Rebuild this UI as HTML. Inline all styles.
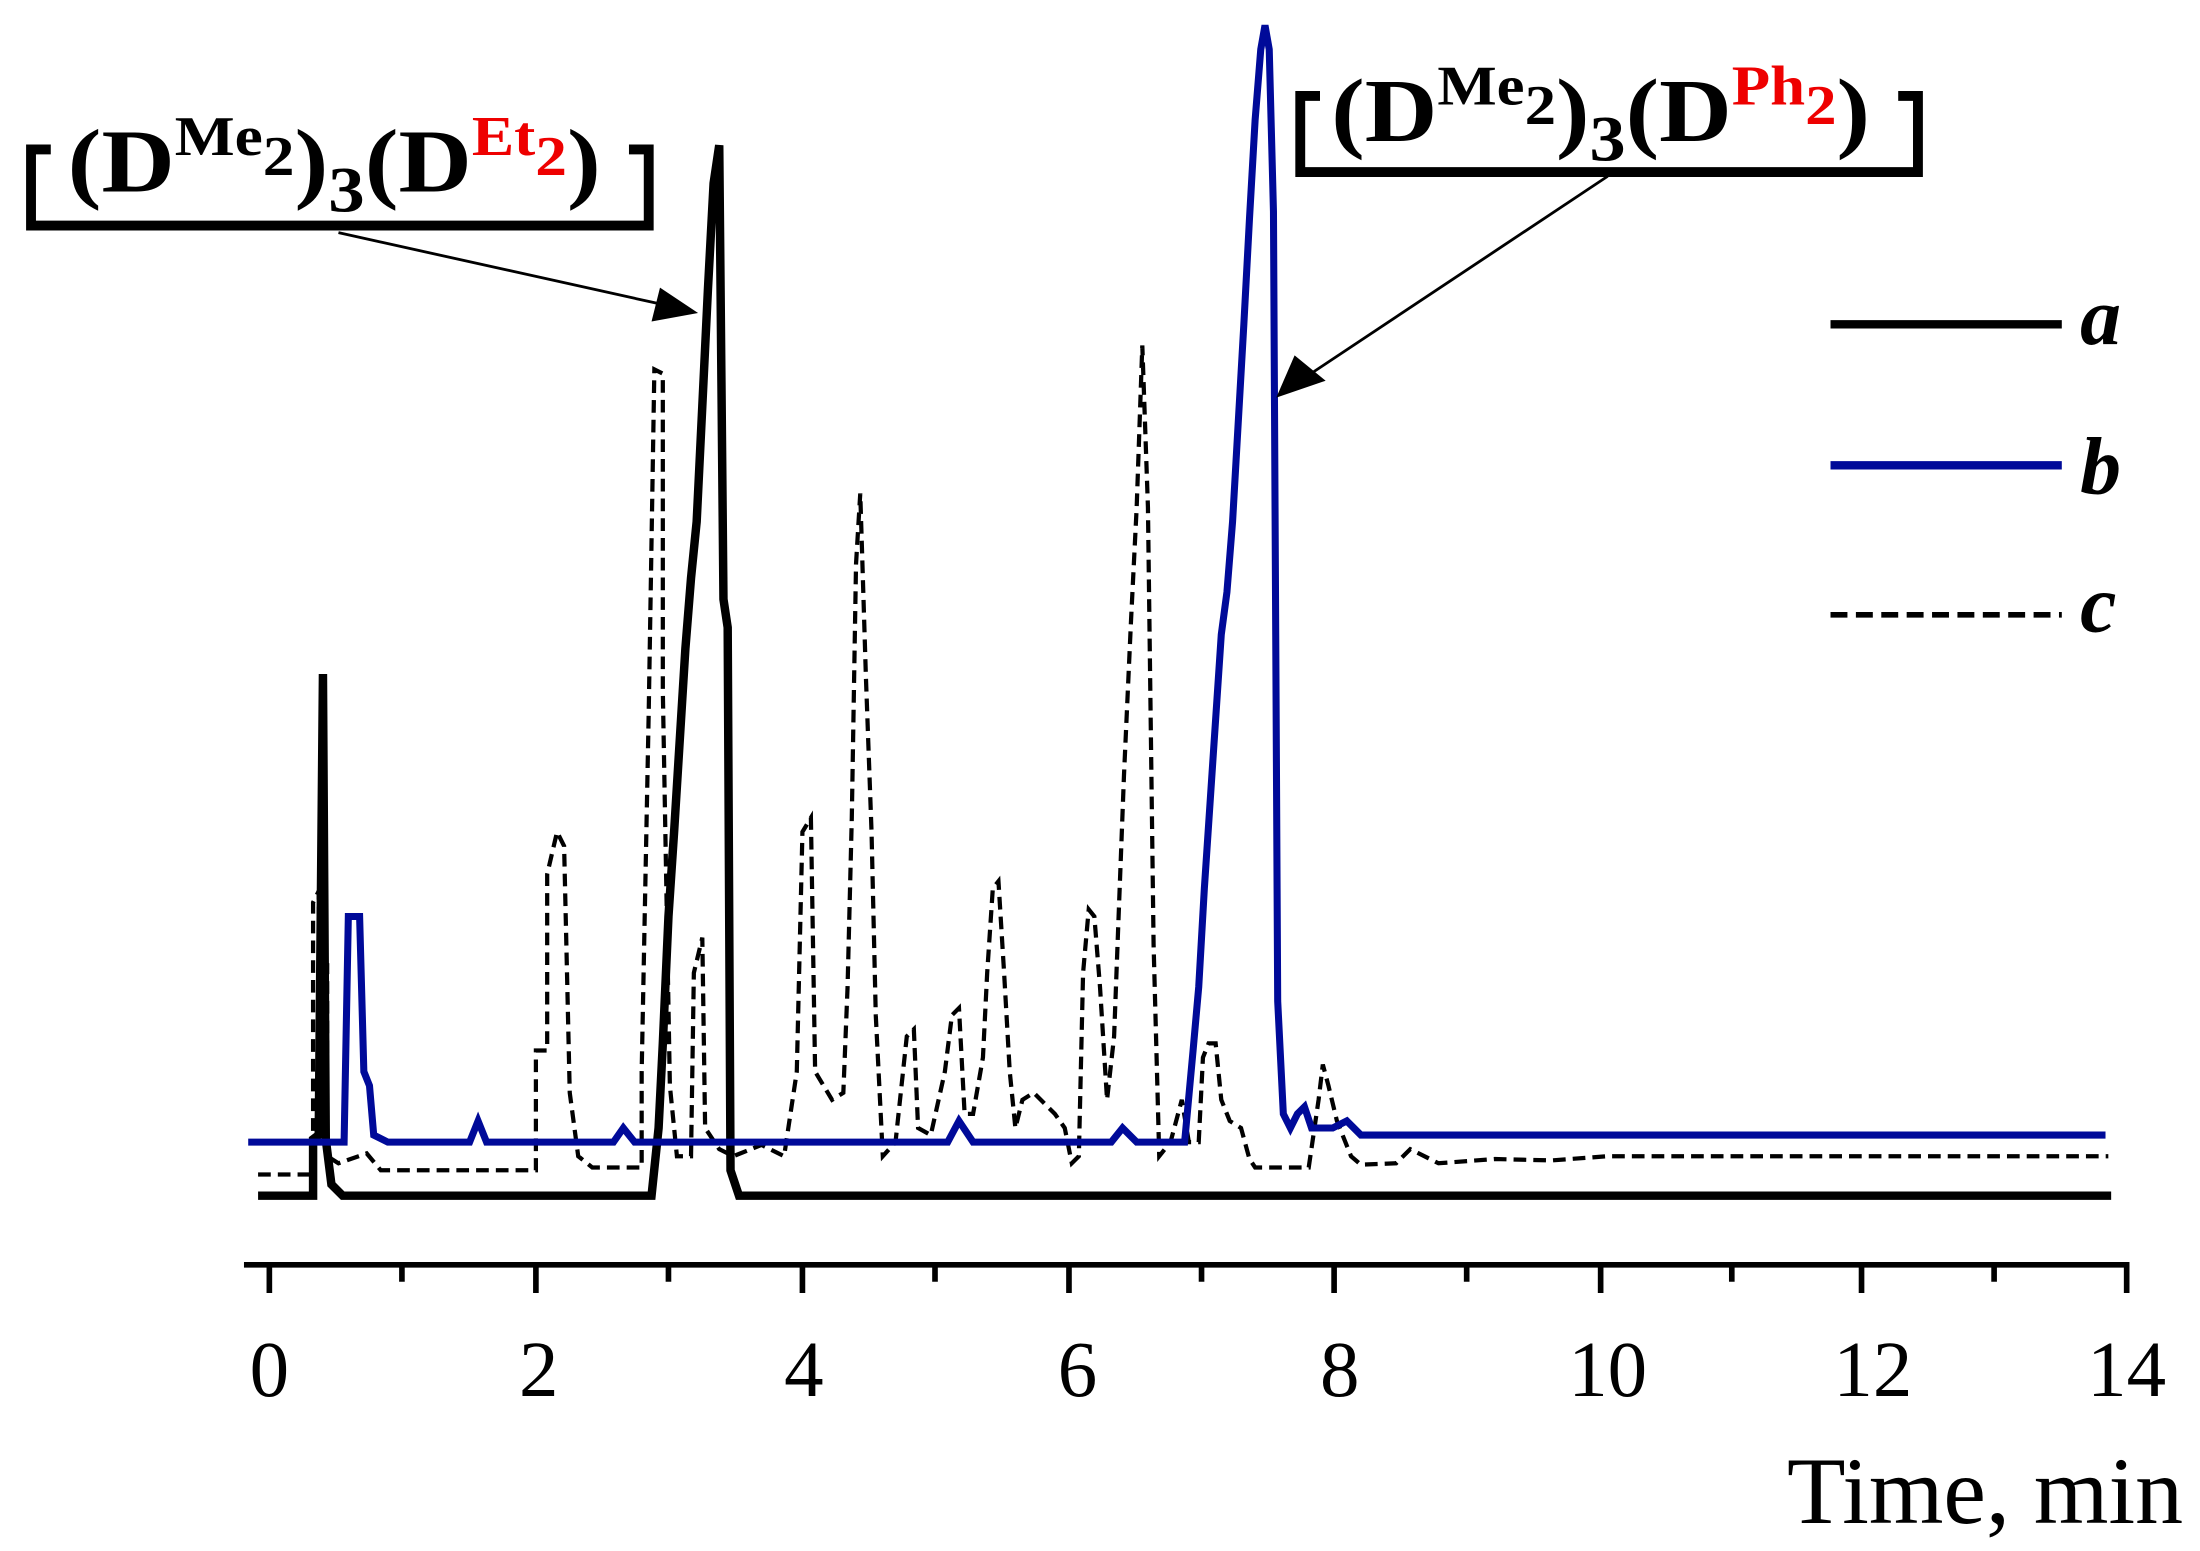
<!DOCTYPE html>
<html><head><meta charset="utf-8"><style>
html,body{margin:0;padding:0;background:#fff}
svg{display:block}
</style></head><body>
<svg width="2200" height="1551" viewBox="0 0 1560 1100" preserveAspectRatio="none" xmlns="http://www.w3.org/2000/svg" font-family="Liberation Serif, serif">
<rect width="1560" height="1100" fill="#fff"/>
<g stroke="#000" stroke-width="4" fill="none">
<line x1="173" y1="897" x2="1510" y2="897"/>
<path d="M191 897v20M380 897v20M569 897v20M758 897v20M946 897v20M1135 897v20M1320 897v20M1508 897v20"/>
<path d="M285 897v12M474 897v12M663 897v12M852 897v12M1040 897v12M1228 897v12M1414 897v12"/>
</g>
<g font-size="56" text-anchor="middle" fill="#000">
<text x="191" y="990">0</text><text x="382" y="990">2</text><text x="570" y="990">4</text><text x="764" y="990">6</text><text x="950" y="990">8</text><text x="1140" y="990">10</text><text x="1328" y="990">12</text><text x="1508" y="990">14</text>
</g>
<text x="1548" y="1080" font-size="68" text-anchor="end">Time, min</text>
<path fill="none" stroke="#000" stroke-width="3" stroke-dasharray="9,5" d="M183 833H222V640L226 632V680L232 684V820L240 825L260 818L270 830H380V745L388 745V620L395 590L400 600L404 775L410 820L420 828H455V760L460 505L464 262L470 265V490L475 770L480 820L490 820L492 690L498 665L500 800L510 815L520 820L540 812L556 820L565 760L569 590L575 580L578 760L590 780L598 775L601 700L604 580L607 400L610 350L614 480L618 590L621 720L626 820L635 810L643 735L648 730L651 800L660 805L670 760L675 720L680 715L684 790L690 790L697 750L700 690L704 630L708 625L712 690L716 760L720 800L725 780L733 775L740 782L748 790L755 800L760 825L765 820L768 690L772 645L776 650L780 700L785 780L790 735L793 655L797 550L802 440L806 360L810 245L814 360L818 670L822 820L830 810L838 780L843 810L850 810L853 750L857 740L862 740L866 780L872 795L880 800L886 822L890 828H928L935 780L938 755L942 770L948 795L958 820L965 826L990 825L1000 815L1020 825L1060 822L1100 823L1140 820H1495"/>
<path fill="none" stroke="#000" stroke-width="6" d="M183 848H222V808L226 805L229 478L231 808L235 840L243 848H462L467 800L470 740L474 650L478 590L482 525L486 460L490 410L494 370L498 288L502 205L506 130L510 103L513 425L516 445L518 830L524 848H1497"/>
<path fill="none" stroke="#000a99" stroke-width="5" d="M176 810H244L247 650H255L258 760L262 770L265 805L275 810H333L339 795L345 810H435L442 800L450 810H672L680 795L690 810H788L796 800L806 810H840L846 745L850 700L854 630L858 570L862 510L866 450L870 420L874 370L878 300L882 230L886 155L890 85L894 35L897 18L900 35L903 150L906 710L910 790L915 800L920 790L925 785L930 800L945 800L955 795L965 805H1493"/>
<line x1="1298" y1="230" x2="1462" y2="230" stroke="#000" stroke-width="6"/>
<line x1="1298" y1="330" x2="1462" y2="330" stroke="#000a99" stroke-width="6"/>
<line x1="1298" y1="436" x2="1462" y2="436" stroke="#000" stroke-width="4" stroke-dasharray="12,6"/>
<g font-size="58" font-weight="bold" font-style="italic">
<text x="1475" y="244">a</text><text x="1475" y="350">b</text><text x="1475" y="448">c</text>
</g>
<g fill="none" stroke="#000" stroke-width="7">
<path d="M36 106H22V160H460V106H446"/>
<path d="M936 68H922V122H1360V68H1346"/>
</g>
<g stroke="#000" stroke-width="2">
<line x1="240" y1="165" x2="470" y2="216"/>
<line x1="1140" y1="125" x2="925" y2="268"/>
</g>
<polygon points="495,222 462,228 468,204" fill="#000"/>
<polygon points="905,282 918,252 940,270" fill="#000"/>
<g font-size="64" font-weight="bold" fill="#000">
<text x="48" y="136" textLength="378" lengthAdjust="spacingAndGlyphs">(D<tspan font-size="40" dy="-26">Me</tspan><tspan font-size="40" dy="14">2</tspan><tspan dy="12">)</tspan><tspan font-size="46" dy="14">3</tspan><tspan dy="-14">(D</tspan><tspan font-size="40" dy="-26" fill="#e00">Et</tspan><tspan font-size="40" dy="14" fill="#e00">2</tspan><tspan dy="12">)</tspan></text>
<text x="944" y="100" textLength="382" lengthAdjust="spacingAndGlyphs">(D<tspan font-size="40" dy="-26">Me</tspan><tspan font-size="40" dy="14">2</tspan><tspan dy="12">)</tspan><tspan font-size="46" dy="14">3</tspan><tspan dy="-14">(D</tspan><tspan font-size="40" dy="-26" fill="#e00">Ph</tspan><tspan font-size="40" dy="14" fill="#e00">2</tspan><tspan dy="12">)</tspan></text>
</g>
</svg>
</body></html>
